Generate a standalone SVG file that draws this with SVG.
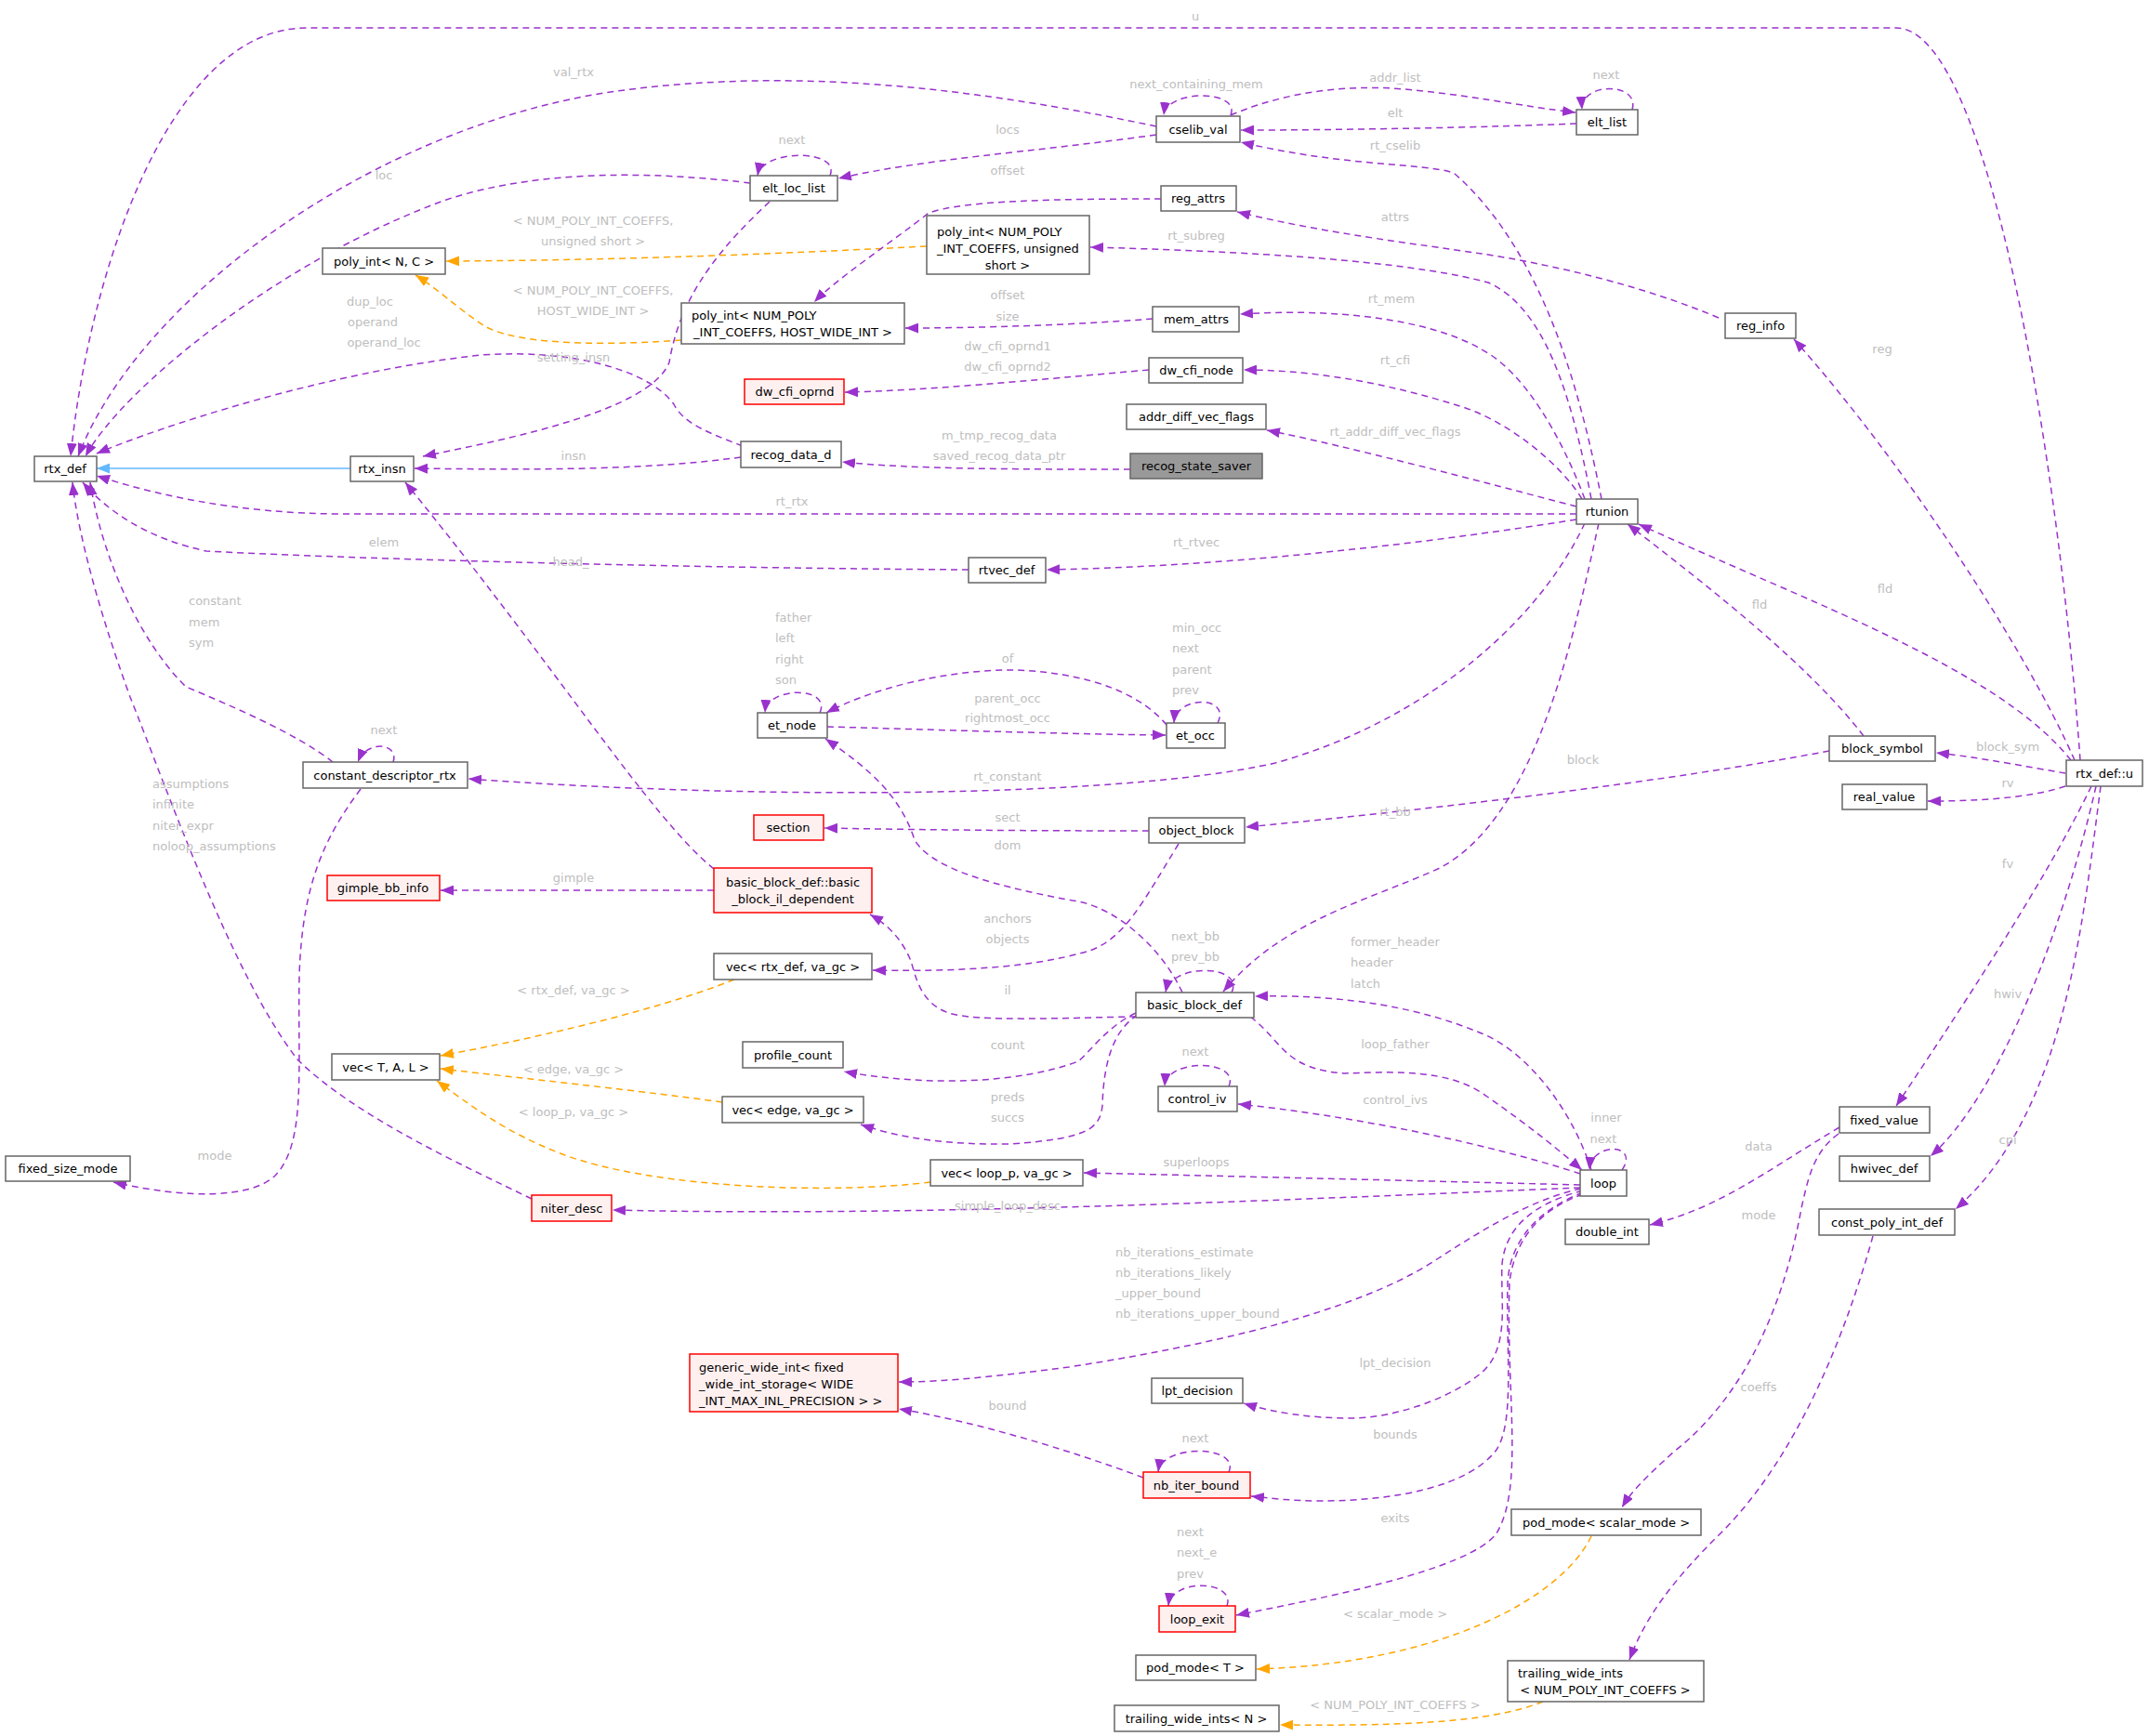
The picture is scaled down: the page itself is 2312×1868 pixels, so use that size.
<svg xmlns="http://www.w3.org/2000/svg" width="2312" height="1868" viewBox="0 0 2312 1868">
<style>
.n rect{fill:#fff;stroke:#666;stroke-width:1.5}
.r rect{fill:#fff0f0;stroke:#f00;stroke-width:1.5}
.g rect{fill:#999;stroke:#666;stroke-width:1.5}
text{font-family:"DejaVu Sans",sans-serif;font-size:13px}
.n text,.r text,.g text{fill:#000;text-anchor:middle}
.l{fill:#bebebe;text-anchor:middle}
.ls{fill:#bebebe;text-anchor:start}
.e path{fill:none;stroke-width:1.5;stroke-dasharray:7,5}
.p{stroke:#9a32cd;marker-end:url(#ap)}
.o{stroke:#ffa500;marker-end:url(#ao)}
.b{stroke:#63b8ff;marker-end:url(#ab);stroke-dasharray:none!important}
</style>
<defs>
<marker id="ap" markerUnits="userSpaceOnUse" markerWidth="15" markerHeight="11" refX="14" refY="5.5" orient="auto"><path d="M0,0 L14,5.5 L0,11 z" fill="#9a32cd"/></marker>
<marker id="ao" markerUnits="userSpaceOnUse" markerWidth="15" markerHeight="11" refX="14" refY="5.5" orient="auto"><path d="M0,0 L14,5.5 L0,11 z" fill="#ffa500"/></marker>
<marker id="ab" markerUnits="userSpaceOnUse" markerWidth="15" markerHeight="11" refX="14" refY="5.5" orient="auto"><path d="M0,0 L14,5.5 L0,11 z" fill="#63b8ff"/></marker>
</defs>
<rect width="2312" height="1868" fill="#fff"/>
<g class="e" id="edges">
<path class="p" d="M2238,818 C2215,500 2140,30 2040,30 L330,30 C180,30 95,300 76,491"/>
<path class="p" d="M1244,136 C1050,95 850,70 650,100 C400,140 150,320 84,491"/>
<path class="p" d="M807,197 C750,190 600,175 480,215 C300,280 130,420 92,491"/>
<path class="p" d="M799,480 C760,465 735,455 725,435 C700,400 620,375 518,382 C350,400 170,460 104,488"/>
<path class="b" d="M377,504 L104,504"/>
<path class="p" d="M797,492 C700,505 600,506 446,504"/>
<path class="p" d="M1696,553 L370,553 C250,553 160,530 104,512"/>
<path class="p" d="M1042,613 C700,611 350,600 222,593 C160,580 115,550 89,519"/>
<path class="p" d="M768,935 C700,880 600,720 436,519"/>
<path class="p" d="M828,217 C760,280 730,330 720,390 C700,440 560,470 455,491"/>
<path class="p" d="M358,820 C320,790 250,760 200,739 C150,690 110,600 97,519"/>
<path class="p" d="M572,1290 C500,1255 380,1200 320,1140 C250,1050 180,850 140,750 C100,640 82,560 78,519"/>
<path class="p" d="M423,820 C430,800 395,795 385,820"/>
<path class="p" d="M388,849 C350,900 325,950 322,1050 C320,1150 330,1230 296,1265 C270,1290 200,1290 122,1272"/>
<path class="p" d="M1705,563 C1650,680 1520,780 1372,821 C1200,860 800,860 504,838"/>
<path class="o" d="M997,265 C800,275 650,280 480,281"/>
<path class="o" d="M733,366 C680,370 560,375 520,350 C490,330 470,310 447,296"/>
<path class="p" d="M1249,214 C1150,214 1030,215 998,230 C960,260 900,300 876,325"/>
<path class="p" d="M1240,343 C1150,350 1050,353 974,353"/>
<path class="p" d="M1236,398 C1100,410 1000,420 909,422"/>
<path class="p" d="M1216,505 C1100,505 980,505 906,497"/>
<path class="p" d="M1244,145 C1100,165 1000,170 902,192"/>
<path class="p" d="M893,189 C905,160 820,160 815,189"/>
<path class="p" d="M1324,124 C1335,96 1255,96 1252,124"/>
<path class="p" d="M1324,124 C1380,100 1440,92 1498,95 C1570,100 1640,115 1695,121"/>
<path class="p" d="M1696,133 C1600,137 1450,140 1335,140"/>
<path class="p" d="M1756,118 C1765,88 1700,88 1702,118"/>
<path class="p" d="M1723,537 C1700,420 1660,270 1564,186 C1530,175 1450,180 1335,153"/>
<path class="p" d="M1849,342 C1750,300 1640,280 1594,273 C1520,262 1420,250 1331,228"/>
<path class="p" d="M2232,818 C2180,700 2050,500 1930,365"/>
<path class="p" d="M1712,537 C1690,420 1660,330 1601,304 C1530,285 1400,272 1173,266"/>
<path class="p" d="M1705,537 C1680,470 1640,400 1594,376 C1550,350 1460,330 1334,338"/>
<path class="p" d="M1702,537 C1680,500 1620,450 1564,435 C1500,415 1420,398 1338,398"/>
<path class="p" d="M1696,545 C1600,520 1450,480 1363,463"/>
<path class="p" d="M1696,559 C1500,590 1300,610 1126,613"/>
<path class="p" d="M1720,563 C1690,700 1650,880 1549,934 C1470,970 1380,990 1316,1067"/>
<path class="p" d="M2228,818 C2150,720 1950,650 1763,564"/>
<path class="p" d="M2005,792 C1950,720 1850,640 1751,564"/>
<path class="p" d="M2222,832 C2180,825 2130,815 2083,810"/>
<path class="p" d="M2222,846 C2180,860 2120,862 2074,862"/>
<path class="p" d="M1968,808 C1800,840 1550,870 1340,890"/>
<path class="p" d="M1236,894 C1100,894 1000,893 887,891"/>
<path class="p" d="M1268,908 C1230,970 1210,1010 1172,1023 C1100,1045 1000,1045 939,1044"/>
<path class="p" d="M1272,1068 C1250,1020 1200,975 1154,969 C1050,950 1000,930 984,904 C970,860 940,830 888,795"/>
<path class="p" d="M882,767 C895,738 825,738 823,767"/>
<path class="p" d="M1255,780 C1230,750 1180,725 1095,721 C1020,720 940,740 889,767"/>
<path class="p" d="M890,782 C1000,785 1150,790 1254,791"/>
<path class="p" d="M1310,778 C1325,748 1265,748 1263,778"/>
<path class="p" d="M768,958 L474,958"/>
<path class="p" d="M1222,1094 C1150,1095 1050,1100 1021,1090 C990,1080 985,1050 980,1034 C970,1010 955,995 936,984"/>
<path class="p" d="M1325,1068 C1340,1038 1260,1035 1254,1068"/>
<path class="o" d="M790,1054 C700,1090 560,1120 474,1136"/>
<path class="o" d="M777,1186 C700,1175 560,1160 474,1150"/>
<path class="o" d="M1001,1272 C900,1285 700,1280 600,1240 C550,1220 520,1200 470,1163"/>
<path class="p" d="M1222,1090 C1190,1105 1170,1135 1160,1142 C1100,1165 1000,1170 908,1153"/>
<path class="p" d="M1224,1092 C1195,1110 1187,1150 1186,1190 C1183,1215 1170,1225 1087,1231 C1020,1232 970,1225 926,1210"/>
<path class="p" d="M1712,1259 C1690,1190 1640,1130 1594,1112 C1530,1085 1450,1070 1350,1072"/>
<path class="p" d="M1345,1094 C1380,1120 1380,1150 1446,1155 C1500,1153 1560,1150 1600,1180 C1650,1215 1680,1240 1702,1259"/>
<path class="p" d="M1700,1263 C1600,1230 1450,1200 1332,1188"/>
<path class="p" d="M1322,1169 C1335,1140 1255,1138 1253,1169"/>
<path class="p" d="M1745,1259 C1765,1230 1712,1228 1710,1259"/>
<path class="p" d="M1700,1275 C1500,1270 1300,1265 1166,1262"/>
<path class="p" d="M1700,1278 C1400,1290 1000,1310 659,1302"/>
<path class="p" d="M1701,1279 C1650,1290 1600,1320 1549,1353 C1480,1400 1350,1440 1150,1471 C1080,1480 1020,1487 967,1487"/>
<path class="p" d="M1703,1281 C1650,1295 1620,1320 1616,1360 C1614,1400 1625,1450 1594,1477 C1560,1505 1500,1526 1453,1526 C1410,1526 1370,1520 1338,1510"/>
<path class="p" d="M1703,1283 C1660,1300 1625,1330 1622,1380 C1620,1450 1630,1530 1610,1560 C1580,1600 1500,1615 1420,1615 C1390,1615 1365,1612 1346,1610"/>
<path class="p" d="M1703,1285 C1660,1300 1630,1330 1624,1380 C1620,1500 1640,1600 1610,1650 C1580,1690 1420,1720 1330,1738"/>
<path class="p" d="M1322,1584 C1335,1555 1250,1553 1246,1584"/>
<path class="p" d="M1230,1590 C1150,1560 1050,1530 967,1516"/>
<path class="p" d="M1320,1728 C1330,1700 1260,1698 1257,1728"/>
<path class="p" d="M2250,846 C2200,950 2100,1100 2040,1190"/>
<path class="p" d="M2255,846 C2220,1000 2150,1180 2077,1244"/>
<path class="p" d="M2260,846 C2240,1000 2220,1200 2104,1301"/>
<path class="p" d="M1979,1213 C1900,1260 1850,1300 1775,1318"/>
<path class="p" d="M1978,1220 C1950,1240 1945,1270 1938,1300 C1920,1400 1880,1500 1801,1562 C1770,1590 1755,1605 1745,1622"/>
<path class="p" d="M2015,1330 C1990,1420 1940,1560 1853,1648 C1800,1700 1770,1740 1753,1786"/>
<path class="o" d="M1712,1653 C1680,1720 1550,1790 1352,1796"/>
<path class="o" d="M1660,1831 C1600,1855 1500,1857 1377,1856"/>
<text class="l" x="1286" y="22">u</text>
<text class="l" x="617" y="82">val_rtx</text>
<text class="l" x="413" y="193">loc</text>
<text class="l" x="1084" y="144">locs</text>
<text class="l" x="852" y="155">next</text>
<text class="l" x="1287" y="95">next_containing_mem</text>
<text class="l" x="1501" y="88">addr_list</text>
<text class="l" x="1501" y="126">elt</text>
<text class="l" x="1728" y="85">next</text>
<text class="l" x="1501" y="161">rt_cselib</text>
<text class="l" x="1084" y="188">offset</text>
<text class="l" x="1501" y="238">attrs</text>
<text class="l" x="1287" y="258">rt_subreg</text>
<text class="l" x="638" y="242">&lt; NUM_POLY_INT_COEFFS,</text>
<text class="l" x="638" y="264">unsigned short &gt;</text>
<text class="l" x="638" y="317">&lt; NUM_POLY_INT_COEFFS,</text>
<text class="l" x="638" y="339">HOST_WIDE_INT &gt;</text>
<text class="l" x="1084" y="322">offset</text>
<text class="l" x="1084" y="345">size</text>
<text class="l" x="1497" y="326">rt_mem</text>
<text class="l" x="2025" y="380">reg</text>
<text class="l" x="1084" y="377">dw_cfi_oprnd1</text>
<text class="l" x="1084" y="399">dw_cfi_oprnd2</text>
<text class="l" x="1501" y="392">rt_cfi</text>
<text class="l" x="398" y="329">dup_loc</text>
<text class="l" x="401" y="351">operand</text>
<text class="l" x="413" y="373">operand_loc</text>
<text class="l" x="617" y="389">setting_insn</text>
<text class="l" x="1501" y="469">rt_addr_diff_vec_flags</text>
<text class="l" x="1075" y="473">m_tmp_recog_data</text>
<text class="l" x="1075" y="495">saved_recog_data_ptr</text>
<text class="l" x="617" y="495">insn</text>
<text class="l" x="852" y="544">rt_rtx</text>
<text class="l" x="413" y="588">elem</text>
<text class="l" x="614" y="609">head_</text>
<text class="l" x="1287" y="588">rt_rtvec</text>
<text class="ls" x="203" y="651">constant</text>
<text class="ls" x="203" y="674">mem</text>
<text class="ls" x="203" y="696">sym</text>
<text class="ls" x="834" y="669">father</text>
<text class="ls" x="834" y="691">left</text>
<text class="ls" x="834" y="714">right</text>
<text class="ls" x="834" y="736">son</text>
<text class="l" x="1084" y="713">of</text>
<text class="ls" x="1261" y="680">min_occ</text>
<text class="ls" x="1261" y="702">next</text>
<text class="ls" x="1261" y="725">parent</text>
<text class="ls" x="1261" y="747">prev</text>
<text class="l" x="1084" y="756">parent_occ</text>
<text class="l" x="1084" y="777">rightmost_occ</text>
<text class="l" x="2028" y="638">fld</text>
<text class="l" x="1893" y="655">fld</text>
<text class="l" x="413" y="790">next</text>
<text class="l" x="1084" y="840">rt_constant</text>
<text class="l" x="1703" y="822">block</text>
<text class="l" x="2160" y="808">block_sym</text>
<text class="l" x="2160" y="847">rv</text>
<text class="ls" x="164" y="848">assumptions</text>
<text class="ls" x="164" y="870">infinite</text>
<text class="ls" x="164" y="893">niter_expr</text>
<text class="ls" x="164" y="915">noloop_assumptions</text>
<text class="l" x="1084" y="884">sect</text>
<text class="l" x="1501" y="878">rt_bb</text>
<text class="l" x="1084" y="914">dom</text>
<text class="l" x="2160" y="934">fv</text>
<text class="l" x="617" y="949">gimple</text>
<text class="l" x="1084" y="993">anchors</text>
<text class="l" x="1084" y="1015">objects</text>
<text class="l" x="1286" y="1012">next_bb</text>
<text class="l" x="1286" y="1034">prev_bb</text>
<text class="ls" x="1453" y="1018">former_header</text>
<text class="ls" x="1453" y="1040">header</text>
<text class="ls" x="1453" y="1063">latch</text>
<text class="l" x="617" y="1070">&lt; rtx_def, va_gc &gt;</text>
<text class="l" x="1084" y="1070">il</text>
<text class="l" x="2160" y="1074">hwiv</text>
<text class="l" x="1084" y="1129">count</text>
<text class="l" x="1501" y="1128">loop_father</text>
<text class="l" x="1286" y="1136">next</text>
<text class="l" x="617" y="1155">&lt; edge, va_gc &gt;</text>
<text class="l" x="1084" y="1185">preds</text>
<text class="l" x="1084" y="1207">succs</text>
<text class="l" x="1501" y="1188">control_ivs</text>
<text class="l" x="617" y="1201">&lt; loop_p, va_gc &gt;</text>
<text class="l" x="1728" y="1207">inner</text>
<text class="l" x="1725" y="1230">next</text>
<text class="l" x="2160" y="1231">cpi</text>
<text class="l" x="1892" y="1238">data</text>
<text class="l" x="231" y="1248">mode</text>
<text class="l" x="1287" y="1255">superloops</text>
<text class="l" x="1084" y="1302">simple_loop_desc</text>
<text class="l" x="1892" y="1312">mode</text>
<text class="ls" x="1200" y="1352">nb_iterations_estimate</text>
<text class="ls" x="1200" y="1374">nb_iterations_likely</text>
<text class="ls" x="1200" y="1396">_upper_bound</text>
<text class="ls" x="1200" y="1418">nb_iterations_upper_bound</text>
<text class="l" x="1501" y="1471">lpt_decision</text>
<text class="l" x="1892" y="1497">coeffs</text>
<text class="l" x="1084" y="1517">bound</text>
<text class="l" x="1501" y="1548">bounds</text>
<text class="l" x="1286" y="1552">next</text>
<text class="l" x="1501" y="1638">exits</text>
<text class="ls" x="1266" y="1653">next</text>
<text class="ls" x="1266" y="1675">next_e</text>
<text class="ls" x="1266" y="1698">prev</text>
<text class="l" x="1501" y="1741">&lt; scalar_mode &gt;</text>
<text class="l" x="1501" y="1839">&lt; NUM_POLY_INT_COEFFS &gt;</text>
</g>
<g id="rtx_def" class="n"><rect x="37" y="491" width="67" height="27"/><text x="70" y="509">rtx_def</text></g>
<g id="rtx_insn" class="n"><rect x="377" y="491" width="68" height="27"/><text x="411" y="509">rtx_insn</text></g>
<g id="poly_int_NC" class="n"><rect x="347" y="267" width="132" height="28"/><text x="413" y="286">poly_int&lt; N, C &gt;</text></g>
<g id="elt_loc_list" class="n"><rect x="807" y="189" width="94" height="27"/><text x="854" y="207">elt_loc_list</text></g>
<g id="cselib_val" class="n"><rect x="1244" y="125" width="90" height="28"/><text x="1289" y="144">cselib_val</text></g>
<g id="elt_list" class="n"><rect x="1696" y="118" width="66" height="27"/><text x="1729" y="136">elt_list</text></g>
<g id="reg_attrs" class="n"><rect x="1249" y="200" width="81" height="27"/><text x="1289" y="218">reg_attrs</text></g>
<g id="poly_int_us" class="n"><rect x="997" y="232" width="175" height="63"/><text x="1008" y="254" style="text-anchor:start">poly_int&lt; NUM_POLY</text><text x="1008" y="272" style="text-anchor:start">_INT_COEFFS, unsigned</text><text x="1084" y="290">short &gt;</text></g>
<g id="poly_int_hwi" class="n"><rect x="733" y="326" width="240" height="44"/><text x="744" y="344" style="text-anchor:start">poly_int&lt; NUM_POLY</text><text x="853" y="362">_INT_COEFFS, HOST_WIDE_INT &gt;</text></g>
<g id="mem_attrs" class="n"><rect x="1240" y="330" width="93" height="27"/><text x="1287" y="348">mem_attrs</text></g>
<g id="dw_cfi_node" class="n"><rect x="1236" y="385" width="101" height="27"/><text x="1287" y="403">dw_cfi_node</text></g>
<g id="dw_cfi_oprnd" class="r"><rect x="801" y="408" width="107" height="27"/><text x="855" y="426">dw_cfi_oprnd</text></g>
<g id="addr_diff_vec_flags" class="n"><rect x="1212" y="435" width="150" height="27"/><text x="1287" y="453">addr_diff_vec_flags</text></g>
<g id="recog_state_saver" class="g"><rect x="1216" y="488" width="142" height="27"/><text x="1287" y="506">recog_state_saver</text></g>
<g id="recog_data_d" class="n"><rect x="797" y="475" width="108" height="28"/><text x="851" y="494">recog_data_d</text></g>
<g id="rtunion" class="n"><rect x="1696" y="537" width="66" height="27"/><text x="1729" y="555">rtunion</text></g>
<g id="reg_info" class="n"><rect x="1856" y="337" width="76" height="27"/><text x="1894" y="355">reg_info</text></g>
<g id="rtvec_def" class="n"><rect x="1042" y="600" width="83" height="27"/><text x="1083" y="618">rtvec_def</text></g>
<g id="et_node" class="n"><rect x="815" y="767" width="75" height="27"/><text x="852" y="785">et_node</text></g>
<g id="et_occ" class="n"><rect x="1255" y="778" width="63" height="27"/><text x="1286" y="796">et_occ</text></g>
<g id="constant_descriptor_rtx" class="n"><rect x="326" y="820" width="177" height="28"/><text x="414" y="839">constant_descriptor_rtx</text></g>
<g id="block_symbol" class="n"><rect x="1968" y="792" width="114" height="27"/><text x="2025" y="810">block_symbol</text></g>
<g id="rtx_def_u" class="n"><rect x="2223" y="818" width="82" height="28"/><text x="2264" y="837">rtx_def::u</text></g>
<g id="real_value" class="n"><rect x="1982" y="844" width="91" height="27"/><text x="2027" y="862">real_value</text></g>
<g id="section" class="r"><rect x="811" y="877" width="75" height="27"/><text x="848" y="895">section</text></g>
<g id="object_block" class="n"><rect x="1236" y="880" width="103" height="27"/><text x="1287" y="898">object_block</text></g>
<g id="gimple_bb_info" class="r"><rect x="352" y="942" width="121" height="27"/><text x="412" y="960">gimple_bb_info</text></g>
<g id="bb_il_dependent" class="r"><rect x="768" y="934" width="170" height="48"/><text x="853" y="954">basic_block_def::basic</text><text x="853" y="972">_block_il_dependent</text></g>
<g id="vec_rtx_def" class="n"><rect x="768" y="1026" width="170" height="28"/><text x="853" y="1045">vec&lt; rtx_def, va_gc &gt;</text></g>
<g id="basic_block_def" class="n"><rect x="1222" y="1068" width="127" height="27"/><text x="1285" y="1086">basic_block_def</text></g>
<g id="vec_TAL" class="n"><rect x="357" y="1134" width="116" height="28"/><text x="415" y="1153">vec&lt; T, A, L &gt;</text></g>
<g id="profile_count" class="n"><rect x="799" y="1121" width="108" height="28"/><text x="853" y="1140">profile_count</text></g>
<g id="control_iv" class="n"><rect x="1246" y="1169" width="85" height="27"/><text x="1288" y="1187">control_iv</text></g>
<g id="vec_edge" class="n"><rect x="777" y="1180" width="152" height="28"/><text x="853" y="1199">vec&lt; edge, va_gc &gt;</text></g>
<g id="fixed_value" class="n"><rect x="1979" y="1191" width="97" height="28"/><text x="2027" y="1210">fixed_value</text></g>
<g id="hwivec_def" class="n"><rect x="1979" y="1244" width="97" height="27"/><text x="2027" y="1262">hwivec_def</text></g>
<g id="fixed_size_mode" class="n"><rect x="6" y="1244" width="134" height="27"/><text x="73" y="1262">fixed_size_mode</text></g>
<g id="vec_loop_p" class="n"><rect x="1001" y="1248" width="164" height="28"/><text x="1083" y="1267">vec&lt; loop_p, va_gc &gt;</text></g>
<g id="loop" class="n"><rect x="1700" y="1259" width="50" height="28"/><text x="1725" y="1278">loop</text></g>
<g id="niter_desc" class="r"><rect x="572" y="1286" width="86" height="28"/><text x="615" y="1305">niter_desc</text></g>
<g id="double_int" class="n"><rect x="1684" y="1312" width="90" height="27"/><text x="1729" y="1330">double_int</text></g>
<g id="const_poly_int_def" class="n"><rect x="1957" y="1301" width="146" height="28"/><text x="2030" y="1320">const_poly_int_def</text></g>
<g id="generic_wide_int" class="r"><rect x="742" y="1457" width="224" height="62"/><text x="752" y="1476" style="text-anchor:start">generic_wide_int&lt; fixed</text><text x="752" y="1494" style="text-anchor:start">_wide_int_storage&lt; WIDE</text><text x="752" y="1512" style="text-anchor:start">_INT_MAX_INL_PRECISION &gt; &gt;</text></g>
<g id="lpt_decision" class="n"><rect x="1239" y="1483" width="98" height="27"/><text x="1288" y="1501">lpt_decision</text></g>
<g id="nb_iter_bound" class="r"><rect x="1230" y="1584" width="115" height="28"/><text x="1287" y="1603">nb_iter_bound</text></g>
<g id="pod_mode_scalar" class="n"><rect x="1626" y="1624" width="204" height="28"/><text x="1728" y="1643">pod_mode&lt; scalar_mode &gt;</text></g>
<g id="loop_exit" class="r"><rect x="1247" y="1728" width="82" height="28"/><text x="1288" y="1747">loop_exit</text></g>
<g id="pod_mode_T" class="n"><rect x="1222" y="1781" width="129" height="27"/><text x="1286" y="1799">pod_mode&lt; T &gt;</text></g>
<g id="trailing_wide_ints_num" class="n"><rect x="1622" y="1787" width="211" height="44"/><text x="1633" y="1805" style="text-anchor:start">trailing_wide_ints</text><text x="1727" y="1823">&lt; NUM_POLY_INT_COEFFS &gt;</text></g>
<g id="trailing_wide_ints_N" class="n"><rect x="1199" y="1835" width="177" height="28"/><text x="1287" y="1854">trailing_wide_ints&lt; N &gt;</text></g>
</svg>
